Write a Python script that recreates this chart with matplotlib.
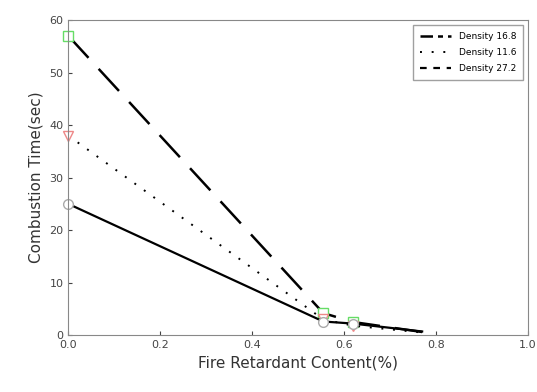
import matplotlib
matplotlib.use("Agg")
import matplotlib.pyplot as plt

# fire retardant content (%) and combustion time (sec)
x_168 = [0.0, 0.555, 0.62, 0.77]
y_168 = [57.0, 4.2, 2.5, 0.6]

x_116 = [0.0, 0.555, 0.62, 0.77]
y_116 = [38.0, 3.0, 1.8, 0.5]

x_272 = [0.0, 0.555, 0.62, 0.77]
y_272 = [25.0, 2.6, 2.2, 0.7]

fig = plt.figure(figsize=(5.37, 3.92), dpi=100)
ax = fig.add_axes([0.127, 0.145, 0.856, 0.804])

ax.plot(x_168, y_168, color="black", lw=1.8, dashes=(12, 6),
        marker="s", ms=7, mfc="white", mec="#66dd66", markevery=[0, 1, 2],
        clip_on=False, label="Density 16.8")
ax.plot(x_116, y_116, color="black", lw=1.4, ls=(0, (1, 5)),
        marker="v", ms=7, mfc="white", mec="#ee8888", markevery=[0, 1, 2],
        clip_on=False, label="Density 11.6")
ax.plot(x_272, y_272, color="black", lw=1.6, ls="-",
        marker="o", ms=7, mfc="white", mec="#aaaaaa", markevery=[0, 1, 2],
        clip_on=False, label="Density 27.2")

ax.set_xlim(0, 1.0)
ax.set_ylim(0, 60)
ax.set_xticks([0.0, 0.2, 0.4, 0.6, 0.8, 1.0])
ax.set_yticks([0, 10, 20, 30, 40, 50, 60])
ax.tick_params(direction="in", length=3, labelsize=8, colors="#444444")
for s in ax.spines.values():
    s.set_color("#888888")

ax.set_xlabel("Fire Retardant Content(%)", fontsize=11, color="#333333")
ax.set_ylabel("Combustion Time(sec)", fontsize=11, color="#333333")

leg = ax.legend(loc="upper right", fontsize=6.5, fancybox=False,
                handlelength=3.5, borderpad=0.8, labelspacing=0.8)
leg.get_frame().set_edgecolor("#888888")
for h in leg.legend_handles:
    h.set_marker("")
# legend keys in the original look a bit different from the drawn lines
leg.legend_handles[0].set_dashes((5, 2, 2, 2))
leg.legend_handles[2].set_dashes((3, 3))

fig.savefig("out.png", dpi=100)
